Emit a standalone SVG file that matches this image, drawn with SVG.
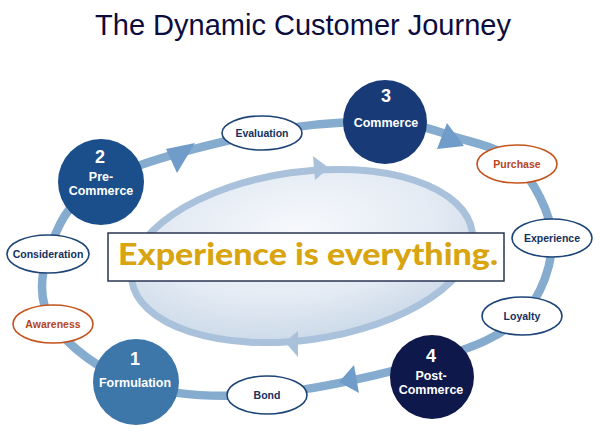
<svg xmlns="http://www.w3.org/2000/svg" width="600" height="444" viewBox="0 0 600 444">
<defs>
<radialGradient id="innerFill" cx="0.5" cy="0.35" r="0.65">
<stop offset="0" stop-color="#f7f9fc"/>
<stop offset="0.6" stop-color="#e4ebf4"/>
<stop offset="1" stop-color="#cbd9e8"/>
</radialGradient>
<style>
.title{font-family:"Liberation Sans",Arial,sans-serif;font-size:29px;fill:#0c0c3e;text-anchor:middle}
.ring{fill:none;stroke:#85abcf;stroke-width:8.5}
.arrow{fill:#6f9cc8}
.inner{fill:url(#innerFill);stroke:#a9c1da;stroke-width:7}
.iarrow{fill:#a9c1da}
.num{font-family:"Liberation Sans",Arial,sans-serif;font-weight:bold;font-size:18px;fill:#fff;text-anchor:middle}
.lbl{font-family:"Liberation Sans",Arial,sans-serif;font-weight:bold;font-size:12.5px;fill:#fff;text-anchor:middle}
.step{fill:#fff;stroke:#1d4476;stroke-width:1.6}
.stepo{fill:#fff;stroke:#c4531d;stroke-width:1.6}
.st{font-family:"Liberation Sans",Arial,sans-serif;font-weight:bold;font-size:10.5px;fill:#13305e;text-anchor:middle}
.sto{font-family:"Liberation Sans",Arial,sans-serif;font-weight:bold;font-size:10.5px;fill:#b8441b;text-anchor:middle}
</style>
</defs>
<rect width="600" height="444" fill="#fff"/>
<text class="title" x="303" y="35">The Dynamic Customer Journey</text>

<g id="inner-cycle">
<ellipse class="inner" cx="302" cy="256" rx="172" ry="84" transform="rotate(-8 302 256)"/>
<polygon class="iarrow" points="313,156 329,168 315,180"/>
<polygon class="iarrow" points="298,331 285,342 298,357"/>
</g>

<g id="connectors">
<path class="ring" d="M137,384 C172.7,395.7 217.8,398 267,394 C316.2,390 389.5,373 432,360 C474.5,347 502,336.3 522,316 C542,295.7 552.8,263.3 552,238 C551.2,212.7 533.2,180.8 517,164 C500.8,147.2 477,144 455,137 C433,130 417.2,122.7 385,122 C352.8,121.3 309.3,123 262,133 C214.7,143 136.7,161.8 101,182 C65.3,202.2 56,230.3 48,254 C40,277.7 38.2,302.3 53,324 C67.8,345.7 101.3,372.3 137,384 Z"/>
<polygon class="arrow" points="166,149 195,143 177,173"/>
<polygon class="arrow" points="447,123 464,146 437,149"/>
<polygon class="arrow" points="354,365 339,382 359,393"/>
</g>

<g id="message">
<rect x="108" y="233" width="396" height="48" fill="#fff" stroke="#2a3550" stroke-width="1.5"/>
<text x="118" y="265" font-family="Lato,'Open Sans',sans-serif" font-weight="900" font-size="31" fill="#d8a511" textLength="380" lengthAdjust="spacingAndGlyphs">Experience is everything.</text>
</g>

<g id="node-1">
<circle cx="136" cy="382" r="43" fill="#3d76a8"/>
<text class="num" x="135" y="365">1</text>
<text class="lbl" x="135" y="387">Formulation</text>
</g>
<g id="node-2">
<circle cx="101" cy="182" r="43" fill="#1b4f8c"/>
<text class="num" x="100" y="163">2</text>
<text class="lbl" x="101" y="181">Pre-</text>
<text class="lbl" x="101" y="195">Commerce</text>
</g>
<g id="node-3">
<circle cx="385" cy="122" r="42" fill="#183b78"/>
<text class="num" x="386" y="102">3</text>
<text class="lbl" x="386" y="127">Commerce</text>
</g>
<g id="node-4">
<circle cx="432" cy="377" r="42" fill="#0e184a"/>
<text class="num" x="431" y="362">4</text>
<text class="lbl" x="431" y="380">Post-</text>
<text class="lbl" x="431" y="394">Commerce</text>
</g>

<g id="evaluation">
<ellipse class="step" cx="262" cy="133" rx="40" ry="17"/>
<text class="st" x="262" y="137">Evaluation</text>
</g>
<g id="consideration">
<ellipse class="step" cx="48" cy="254" rx="41" ry="19"/>
<text class="st" x="48" y="258">Consideration</text>
</g>
<g id="awareness">
<ellipse class="stepo" cx="53" cy="324" rx="40" ry="19"/>
<text class="sto" x="53" y="328">Awareness</text>
</g>
<g id="purchase">
<ellipse class="stepo" cx="517" cy="164" rx="40" ry="19"/>
<text class="sto" x="517" y="168">Purchase</text>
</g>
<g id="experience">
<ellipse class="step" cx="552" cy="238" rx="40" ry="19"/>
<text class="st" x="552" y="242">Experience</text>
</g>
<g id="loyalty">
<ellipse class="step" cx="522" cy="316" rx="40" ry="19"/>
<text class="st" x="522" y="320">Loyalty</text>
</g>
<g id="bond">
<ellipse class="step" cx="267" cy="395" rx="40" ry="19"/>
<text class="st" x="267" y="399">Bond</text>
</g>
</svg>
